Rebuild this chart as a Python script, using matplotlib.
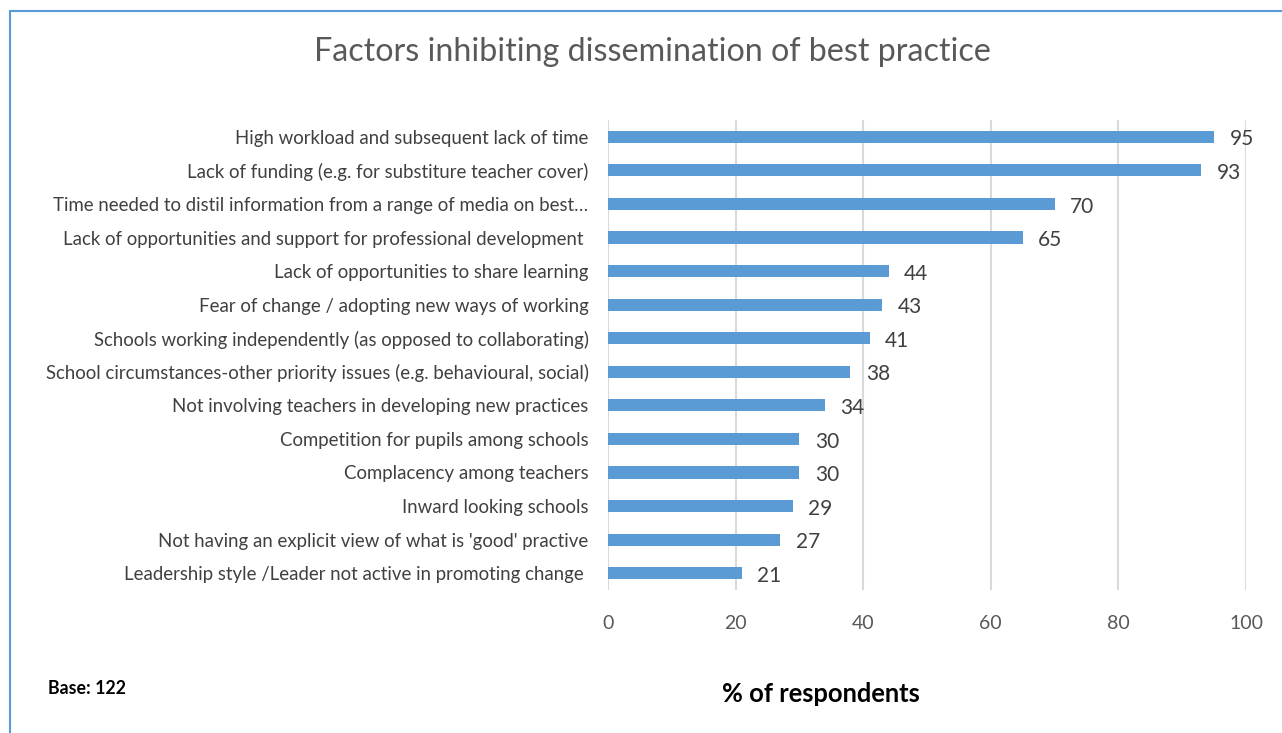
import matplotlib.pyplot as plt
from matplotlib.patches import Rectangle

plt.rcParams['font.family'] = ['Lato', 'DejaVu Sans']

factors = [
    "High workload and subsequent lack of time",
    "Lack of funding (e.g. for substiture teacher cover)",
    "Time needed to distil information from a range of media on best\u2026",
    "Lack of opportunities and support for professional development ",
    "Lack of opportunities to share learning",
    "Fear of change / adopting new ways of working",
    "Schools working independently (as opposed to collaborating)",
    "School circumstances-other priority issues (e.g. behavioural, social)",
    "Not involving teachers in developing new practices",
    "Competition for pupils among schools",
    "Complacency among teachers",
    "Inward looking schools",
    "Not having an explicit view of what is 'good' practive",
    "Leadership style /Leader not active in promoting change ",
]
values = [95, 93, 70, 65, 44, 43, 41, 38, 34, 30, 30, 29, 27, 21]
xticks = [0, 20, 40, 60, 80, 100]

fig = plt.figure(figsize=(12.82, 7.33), dpi=100)
ax = fig.add_axes([608 / 1282, 1 - 590 / 733, 638 / 1282, 470 / 733])

y = list(range(len(factors)))[::-1]
ax.barh(y, values, height=0.36, color='#5b9bd5', zorder=3)
for yi, v in zip(y, values):
    ax.text(v + 2.4, yi - 0.08, str(v), va='center', ha='left', fontsize=15, color='#404040')

ax.set_xlim(0, 100)
ax.set_ylim(-0.5, len(factors) - 0.5)
ax.set_xticks(xticks)
ax.set_yticks(y)
ax.set_yticklabels(factors, fontsize=13.4, color='#404040')
ax.tick_params(axis='x', labelsize=14, colors='#595959', length=0, pad=18)
ax.tick_params(axis='y', length=0, pad=14)
ax.grid(axis='x', color='#d9d9d9', linewidth=1.5, zorder=0)
for s in ax.spines.values():
    s.set_visible(False)

fig.text(652 / 1282, 1 - 52 / 733, "Factors inhibiting dissemination of best practice",
         ha='center', va='center', fontsize=23.2, color='#595959')
fig.text(48 / 1282, 1 - 689 / 733, "Base: 122", ha='left', va='center',
         fontsize=12.8, fontweight='bold', color='black')
fig.text(821 / 1282, 1 - 694 / 733, "% of respondents", ha='center', va='center',
         fontsize=18.4, fontweight='bold', color='black')

# chart frame
fig.patches.append(Rectangle((10 / 1282, -0.05), 1.1, 1 - 11 / 733 + 0.05,
                             transform=fig.transFigure, fill=False,
                             edgecolor='#5b9bd5', linewidth=1.5))

fig.savefig('out.png', dpi=100)
